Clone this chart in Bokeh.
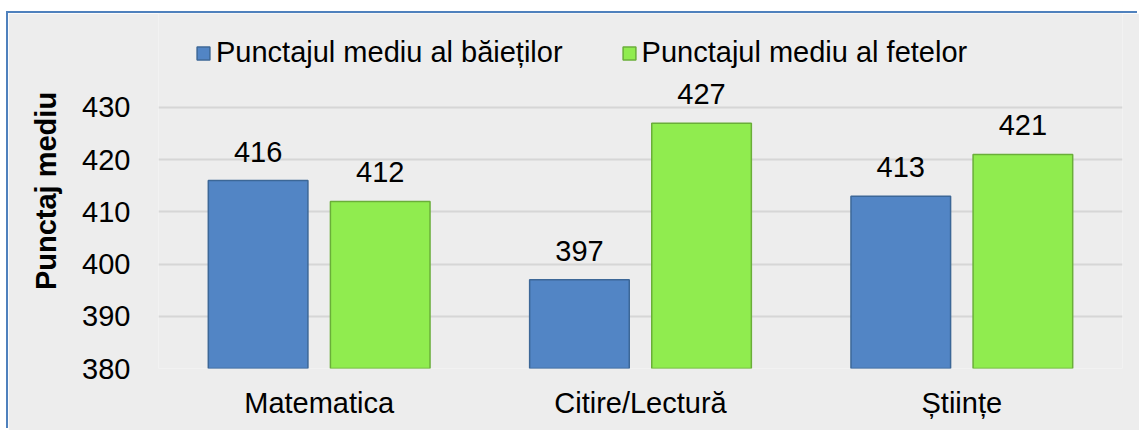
from bokeh.plotting import figure
from bokeh.models import (ColumnDataSource, FactorRange, Range1d, FixedTicker,
                          Legend, LegendItem)
from bokeh.transform import dodge
from bokeh.core.properties import value
from bokeh.embed import file_html
from bokeh.resources import INLINE

# ---- data ----
categories = ["Matematica", "Citire/Lectură", "Științe"]
boys = [416, 397, 413]
girls = [412, 427, 421]
series_names = ["Punctajul mediu al băieților", "Punctajul mediu al fetelor"]
y_ticks = [380, 390, 400, 410, 420, 430]
y_title = "Punctaj mediu"

FONT = "Liberation Sans"
FS = "29px"
BG = "#EDEDED"
BLUE = "#5285C5"
BLUE_LINE = "#3C6797"
GREEN = "#90EC4F"
GREEN_LINE = "#6AAE39"

src = ColumnDataSource(dict(
    cats=categories,
    boys=boys,
    girls=girls,
    boys_txt=[str(v) for v in boys],
    girls_txt=[str(v) for v in girls],
))

# frame spans from the top of the chart box down to the 380 line
Y_TOP = 448.0

p = figure(
    width=1131, height=417,
    x_range=FactorRange(*categories),
    y_range=Range1d(y_ticks[0], Y_TOP),
    output_backend="svg", toolbar_location=None,
    min_border_left=150, min_border_right=17,
    min_border_top=0, min_border_bottom=62,
    background_fill_color=BG, border_fill_color=BG,
    outline_line_color=None,
)

off = 0.19
bw = 0.31
r1 = p.vbar(x=dodge("cats", -off, range=p.x_range), top="boys", bottom=y_ticks[0],
            width=bw, source=src, fill_color=BLUE, line_color=BLUE_LINE, line_width=1.5)
r2 = p.vbar(x=dodge("cats", off, range=p.x_range), top="girls", bottom=y_ticks[0],
            width=bw, source=src, fill_color=GREEN, line_color=GREEN_LINE, line_width=1.5)

for col, txt, o in (("boys", "boys_txt", -off), ("girls", "girls_txt", off)):
    p.text(x=dodge("cats", o, range=p.x_range), y=col, text=txt, source=src,
           text_font=value(FONT), text_font_size=FS, text_color="#000000",
           text_align="center", text_baseline="alphabetic", y_offset=-29)

# axes
p.yaxis.ticker = FixedTicker(ticks=y_ticks)
for ax in (p.xaxis[0], p.yaxis[0]):
    ax.axis_line_color = None
    ax.major_tick_line_color = None
    ax.minor_tick_line_color = None
    ax.major_label_text_font = FONT
    ax.major_label_text_font_size = FS
    ax.major_label_text_color = "#000000"
p.yaxis.major_label_standoff = 22
p.xaxis.major_label_standoff = 12
p.yaxis.axis_label = y_title
p.yaxis.axis_label_text_font = FONT
p.yaxis.axis_label_text_font_size = FS
p.yaxis.axis_label_text_font_style = "bold"
p.yaxis.axis_label_text_color = "#000000"
p.yaxis.axis_label_standoff = 17

p.xgrid.grid_line_color = None
p.ygrid.grid_line_color = "#D6D6D6"
p.ygrid.grid_line_width = 2

legend = Legend(
    items=[LegendItem(label=series_names[0], renderers=[r1]),
           LegendItem(label=series_names[1], renderers=[r2])],
    orientation="horizontal", location=(37, 299),
    glyph_width=16, glyph_height=16, label_standoff=5, spacing=58,
    padding=0, margin=0, border_line_color=None, background_fill_alpha=0,
    label_text_font=FONT, label_text_font_size=FS, label_text_color="#000000",
)
p.add_layout(legend, "center")

p.styles = {"margin-top": "13px", "margin-left": "8px",
            "box-shadow": "-2px -2px 0 0 #4F81BD"}

open("out.html", "w").write(file_html(p, INLINE))
